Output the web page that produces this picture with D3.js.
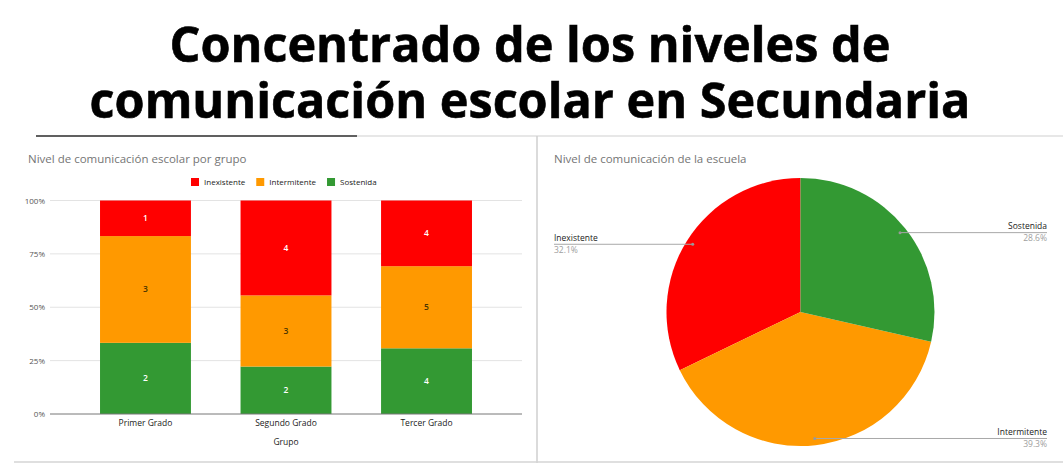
<!DOCTYPE html>
<html>
<head>
<meta charset="utf-8">
<script src="https://cdn.jsdelivr.net/npm/d3@7"></script>
<style>
body{margin:0;background:#fff;}
svg{display:block;font-family:"Open Sans",sans-serif;}
</style>
</head>
<body>
<svg id="fig" width="1063" height="463"></svg>
<script>
// data
const grupos = ["Primer Grado", "Segundo Grado", "Tercer Grado"];
const niveles = ["Inexistente", "Intermitente", "Sostenida"];
const inexistente = [1, 4, 4];
const intermitente = [3, 3, 5];
const sostenida = [2, 2, 4];
const yTicks = [0, 0.25, 0.5, 0.75, 1];
const tituloLineas = ["Concentrado de los niveles de", "comunicación escolar en Secundaria"];

const colores = {Inexistente: "#ff0000", Intermitente: "#ff9900", Sostenida: "#339933"};
const colorTextoBarra = {Inexistente: "#fff", Intermitente: "#4a3500", Sostenida: "#fff"};

const svg = d3.select("#fig");
svg.append("rect").attr("width", 1063).attr("height", 463).attr("fill", "#fff");

// big title (one text, two lines), sized so the second line spans about 881px
const titulo = svg.append("text")
    .attr("text-anchor", "middle")
    .attr("font-weight", 700)
    .attr("font-size", 46)
    .attr("fill", "#000")
    .attr("stroke", "#000")
    .attr("stroke-width", 0.6);
const tspans = titulo.selectAll("tspan").data(tituloLineas).join("tspan")
    .attr("x", 530)
    .attr("y", (d, i) => 62 + i * 56)
    .text(d => d);
const w2 = tspans.nodes()[1].getComputedTextLength();
titulo.attr("font-size", 46 * 881 / w2);

// panel borders
svg.append("line").attr("x1", 357).attr("x2", 1063).attr("y1", 136).attr("y2", 136).attr("stroke", "#cfcfcf");
svg.append("line").attr("x1", 36).attr("x2", 357).attr("y1", 136).attr("y2", 136).attr("stroke", "#2b2b2b").attr("stroke-width", 1.5);
svg.append("line").attr("x1", 537).attr("x2", 537).attr("y1", 136).attr("y2", 463).attr("stroke", "#cfcfcf").attr("stroke-width", 1.5);
svg.append("line").attr("x1", 14).attr("x2", 1063).attr("y1", 462).attr("y2", 462).attr("stroke", "#d4d4d4").attr("stroke-width", 1.5);

// ---------- stacked 100% bars ----------
const filas = grupos.map((g, i) => ({
    grupo: g,
    Inexistente: inexistente[i],
    Intermitente: intermitente[i],
    Sostenida: sostenida[i]
}));

const xScale = d3.scaleBand().domain(grupos).range([50, 522]).paddingInner(0.353).paddingOuter(0.356);
const yScale = d3.scaleLinear().domain([0, 1]).range([414, 200.5]);

svg.append("text")
    .attr("x", 28).attr("y", 163)
    .attr("font-size", 11.5).attr("fill", "#757575")
    .text("Nivel de comunicación escolar por grupo");

// legend
let lx = 191;
const leyenda = svg.append("g").attr("font-size", 8).attr("fill", "#222");
niveles.forEach(n => {
    leyenda.append("rect").attr("x", lx).attr("y", 178).attr("width", 8).attr("height", 8).attr("fill", colores[n]);
    const t = leyenda.append("text").attr("x", lx + 13).attr("y", 185).text(n);
    lx += 13 + t.node().getComputedTextLength() + 11;
});

// grid
svg.append("g").selectAll("line").data(yTicks.filter(d => d > 0)).join("line")
    .attr("x1", 50).attr("x2", 522)
    .attr("y1", d => yScale(d)).attr("y2", d => yScale(d))
    .attr("stroke", "#e3e3e3");

const stack = d3.stack().keys(["Sostenida", "Intermitente", "Inexistente"]).offset(d3.stackOffsetExpand);
const capas = stack(filas);

const capaSel = svg.append("g").selectAll("g").data(capas).join("g")
    .attr("fill", d => colores[d.key]);
capaSel.selectAll("rect").data(d => d).join("rect")
    .attr("x", d => xScale(d.data.grupo))
    .attr("width", xScale.bandwidth())
    .attr("y", d => yScale(d[1]))
    .attr("height", d => yScale(d[0]) - yScale(d[1]));

capaSel.each(function(capa){
    d3.select(this).selectAll("text").data(capa).join("text")
        .attr("x", d => xScale(d.data.grupo) + xScale.bandwidth() / 2)
        .attr("y", d => (yScale(d[0]) + yScale(d[1])) / 2 + 3)
        .attr("text-anchor", "middle")
        .attr("font-size", 8.5)
        .attr("font-weight", 600)
        .attr("fill", colorTextoBarra[capa.key])
        .text(d => d.data[capa.key]);
});

// baseline
svg.append("line").attr("x1", 50).attr("x2", 522).attr("y1", yScale(0)).attr("y2", yScale(0)).attr("stroke", "#777");

const yAxis = svg.append("g").attr("transform", "translate(50,0)")
    .call(d3.axisLeft(yScale).tickValues(yTicks).tickFormat(d3.format(".0%")).tickSize(0).tickPadding(5));
yAxis.select(".domain").remove();
yAxis.selectAll("text").attr("font-size", 8).attr("fill", "#555").attr("font-family", "Open Sans");

const xAxis = svg.append("g").attr("transform", `translate(0,${yScale(0)})`)
    .call(d3.axisBottom(xScale).tickSize(0).tickPadding(6));
xAxis.select(".domain").remove();
xAxis.selectAll("text").attr("font-size", 8.5).attr("fill", "#222").attr("font-family", "Open Sans");

svg.append("text")
    .attr("x", xScale("Segundo Grado") + xScale.bandwidth() / 2).attr("y", 445)
    .attr("text-anchor", "middle").attr("font-size", 8.5).attr("fill", "#222")
    .text("Grupo");

// ---------- pie ----------
svg.append("text")
    .attr("x", 554).attr("y", 163)
    .attr("font-size", 11.5).attr("fill", "#757575")
    .text("Nivel de comunicación de la escuela");

const totales = [d3.sum(inexistente), d3.sum(intermitente), d3.sum(sostenida)];
const pieData = niveles.map((n, i) => ({nivel: n, valor: totales[i]}));
const total = d3.sum(totales);

const cx = 800.5, cy = 312, R = 134;
const pie = d3.pie().sort(null).value(d => d.valor).startAngle(0).endAngle(-2 * Math.PI);
const arc = d3.arc().innerRadius(0).outerRadius(R);
const arcos = pie(pieData);

const pieG = svg.append("g").attr("transform", `translate(${cx},${cy})`);
pieG.selectAll("path").data(arcos).join("path")
    .attr("d", arc)
    .attr("fill", d => colores[d.data.nivel]);

const etiquetas = svg.append("g");
arcos.forEach(a => {
    const m = (a.startAngle + a.endAngle) / 2;
    const px = cx + 0.95 * R * Math.sin(m);
    const py = cy - 0.95 * R * Math.cos(m);
    const izquierda = Math.sin(m) < 0;
    const ex = izquierda ? 554 : 1047;
    etiquetas.append("line").attr("x1", px).attr("x2", ex).attr("y1", py).attr("y2", py)
        .attr("stroke", "#a8a8a8");
    etiquetas.append("circle").attr("cx", px).attr("cy", py).attr("r", 1.5).attr("fill", "#999");
    etiquetas.append("text").attr("x", ex).attr("y", py - 3.5)
        .attr("text-anchor", izquierda ? "start" : "end")
        .attr("font-size", 8.5).attr("fill", "#222")
        .text(a.data.nivel);
    etiquetas.append("text").attr("x", ex).attr("y", py + 8.5)
        .attr("text-anchor", izquierda ? "start" : "end")
        .attr("font-size", 8.5).attr("fill", "#9e9e9e")
        .text(d3.format(".1%")(a.data.valor / total));
});
</script>
</body>
</html>
